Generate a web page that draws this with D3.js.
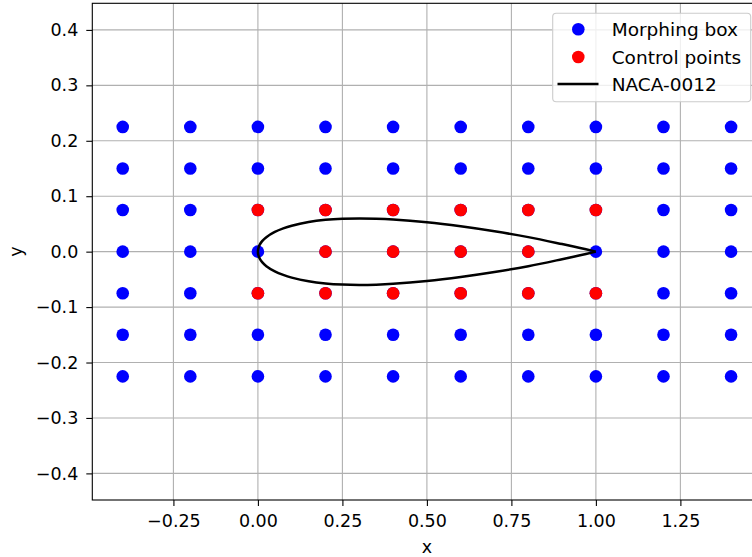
<!DOCTYPE html>
<html>
<head>
<meta charset="utf-8">
<script src="https://cdn.jsdelivr.net/npm/d3@7"></script>
<style>
  html, body { margin: 0; padding: 0; background: #fff; }
  svg { display: block; }
  text { font-family: "DejaVu Sans", sans-serif; fill: #000; }
</style>
</head>
<body>
<svg id="chart" width="752" height="557"></svg>
<script>
// Lattice of the morphing box (FFD grid)
const boxX = [-0.4, -0.2, 0.0, 0.2, 0.4, 0.6, 0.8, 1.0, 1.2, 1.4];
const boxY = [-0.225, -0.15, -0.075, 0.0, 0.075, 0.15, 0.225];

// Control points that are free to move
const ctrlX = [0.0, 0.2, 0.4, 0.6, 0.8, 1.0,  0.2, 0.4, 0.6, 0.8,  0.0, 0.2, 0.4, 0.6, 0.8, 1.0];
const ctrlY = [0.075, 0.075, 0.075, 0.075, 0.075, 0.075,  0, 0, 0, 0,  -0.075, -0.075, -0.075, -0.075, -0.075, -0.075];

// NACA-0012 half-thickness distribution (closed trailing edge)
const nacaX  = [0, 0.0025, 0.005, 0.0125, 0.025, 0.05, 0.075, 0.1, 0.15, 0.2, 0.25, 0.3, 0.35, 0.4, 0.5, 0.6, 0.7, 0.8, 0.9, 0.95, 1.0];
const nacaYt = [0, 0.00872, 0.01221, 0.01894, 0.02615, 0.03555, 0.04200, 0.04683, 0.05345, 0.05737, 0.05941, 0.06002, 0.05949, 0.05803, 0.05294, 0.04563, 0.03664, 0.02623, 0.01365, 0.00704, 0.0];

// Axis ticks
const xTicks = [-0.25, 0.0, 0.25, 0.5, 0.75, 1.0, 1.25];
const yTicks = [-0.4, -0.3, -0.2, -0.1, 0.0, 0.1, 0.2, 0.3, 0.4];

const legendLabels = ["Morphing box", "Control points", "NACA-0012"];

const svg = d3.select("#chart");
const plotL = 92.3, plotR = 761.5, plotT = 3.3, plotB = 500;

const x = d3.scaleLinear().domain([-0.49, 1.49]).range([plotL, plotR]);
const y = d3.scaleLinear().domain([-0.448, 0.448]).range([plotB, plotT]);

const minus = s => s.replace("-", "\u2212");

// grid
const grid = svg.append("g");
grid.selectAll("line.gx").data(xTicks).join("line").attr("class", "gx")
  .attr("x1", d => x(d)).attr("x2", d => x(d))
  .attr("y1", plotT).attr("y2", plotB)
  .attr("stroke", "#b0b0b0").attr("stroke-width", 1.1);
grid.selectAll("line.gy").data(yTicks).join("line").attr("class", "gy")
  .attr("y1", d => y(d)).attr("y2", d => y(d))
  .attr("x1", plotL).attr("x2", plotR)
  .attr("stroke", "#b0b0b0").attr("stroke-width", 1.1);

// morphing box lattice
const boxPts = [];
boxX.forEach(px => boxY.forEach(py => boxPts.push([px, py])));
svg.append("g").selectAll("circle").data(boxPts).join("circle")
  .attr("cx", d => x(d[0])).attr("cy", d => y(d[1]))
  .attr("r", 6.3).attr("fill", "#0000ff");

// control points
const ctrlPts = ctrlX.map((v, i) => [v, ctrlY[i]]);
svg.append("g").selectAll("circle").data(ctrlPts).join("circle")
  .attr("cx", d => x(d[0])).attr("cy", d => y(d[1]))
  .attr("r", 6.3).attr("fill", "#ff0000");

// airfoil outline: upper surface TE -> LE, then lower surface LE -> TE
const upper = nacaX.map((v, i) => [v, nacaYt[i]]).reverse();
const lower = nacaX.map((v, i) => [v, -nacaYt[i]]).slice(1);
const outline = upper.concat(lower);
svg.append("path")
  .attr("d", d3.line().x(d => x(d[0])).y(d => y(d[1])).curve(d3.curveCatmullRom)(outline))
  .attr("fill", "none").attr("stroke", "#000").attr("stroke-width", 2.5)
  .attr("stroke-linejoin", "round");

// axes
const xAxis = svg.append("g").attr("transform", `translate(0,${plotB})`)
  .call(d3.axisBottom(x).tickValues(xTicks).tickSize(6).tickPadding(9)
    .tickFormat(d => minus(d3.format(".2f")(d))));
const yAxis = svg.append("g").attr("transform", `translate(${plotL},0)`)
  .call(d3.axisLeft(y).tickValues(yTicks).tickSize(6).tickPadding(8)
    .tickFormat(d => minus(d3.format(".1f")(d))));
[xAxis, yAxis].forEach(a => {
  a.select(".domain").remove();
  a.selectAll(".tick line").attr("stroke", "#000").attr("stroke-width", 1.1);
  a.selectAll(".tick text").attr("font-size", 17.5).attr("font-family", "DejaVu Sans").attr("fill", "#000");
});

// frame
svg.append("rect")
  .attr("x", plotL).attr("y", plotT)
  .attr("width", plotR - plotL).attr("height", plotB - plotT)
  .attr("fill", "none").attr("stroke", "#000").attr("stroke-width", 1.1);

// axis labels
svg.append("text").attr("x", (plotL + plotR) / 2).attr("y", 552.5)
  .attr("text-anchor", "middle").attr("font-size", 17.5).text("x");
svg.append("text").attr("transform", `translate(22,${(plotT + plotB) / 2}) rotate(-90)`)
  .attr("text-anchor", "middle").attr("font-size", 17.5).text("y");

// legend
const lg = svg.append("g");
lg.append("rect").attr("x", 552.7).attr("y", 13.3).attr("width", 198).attr("height", 88.4)
  .attr("rx", 3.5).attr("fill", "#fff").attr("fill-opacity", 0.8)
  .attr("stroke", "#cccccc").attr("stroke-width", 1.1);
const rowsY = [29.3, 57, 84];
lg.append("circle").attr("cx", 578.3).attr("cy", rowsY[0]).attr("r", 6.3).attr("fill", "#0000ff");
lg.append("circle").attr("cx", 578.3).attr("cy", rowsY[1]).attr("r", 6.3).attr("fill", "#ff0000");
lg.append("line").attr("x1", 557.5).attr("x2", 598.5).attr("y1", rowsY[2]).attr("y2", rowsY[2])
  .attr("stroke", "#000").attr("stroke-width", 2.5);
lg.selectAll("text.lab").data(legendLabels).join("text").attr("class", "lab")
  .attr("x", 611.7).attr("y", (d, i) => rowsY[i]).attr("dy", "0.36em")
  .attr("font-size", 18.5).text(d => d);
</script>
</body>
</html>
